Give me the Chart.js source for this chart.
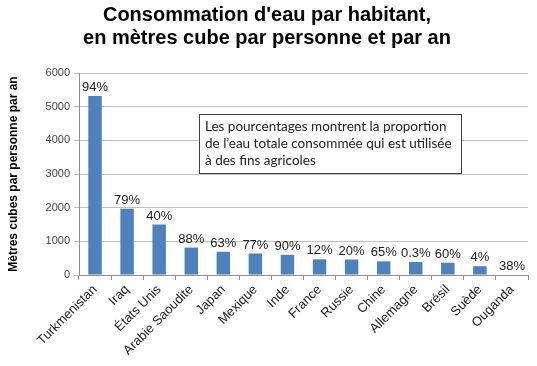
<!DOCTYPE html>
<html>
<head>
<meta charset="utf-8">
<script src="https://cdn.jsdelivr.net/npm/chart.js@4"></script>
<style>
  html, body { margin: 0; padding: 0; background: #fff; }
  #wrap { width: 537px; height: 366px; position: relative; }
</style>
</head>
<body>
<div id="wrap"><canvas id="chart"></canvas></div>
<script>
// Données
const pays = ["Turkmenistan", "Iraq", "États Unis", "Arabie Saoudite", "Japan", "Mexique", "Inde", "France", "Russie", "Chine", "Allemagne", "Brésil", "Suède", "Ouganda"];
const consommation = [5320, 1970, 1500, 815, 690, 640, 600, 465, 460, 405, 385, 365, 260, 0];
const partAgricole = ["94%", "79%", "40%", "88%", "63%", "77%", "90%", "12%", "20%", "65%", "0.3%", "60%", "4%", "38%"];
const titre = ["Consommation d'eau par habitant,", "en mètres cube par personne et par an"];
const titreAxeY = "Mètres cubes par personne par an";
const noteTexte = ["Les pourcentages montrent la proportion", "de l\u2019eau totale consommée qui est utilisée", "à des fins agricoles"];

const ARIAL = "'Liberation Sans', Arial, sans-serif";
Chart.defaults.font.family = ARIAL;

// Pourcentages au-dessus des barres
const pourcentPlugin = {
    id: "pourcent",
    afterDatasetsDraw(chart) {
        const ctx = chart.ctx;
        const meta = chart.getDatasetMeta(0);
        ctx.save();
        ctx.font = "13px " + ARIAL;
        ctx.fillStyle = "#222";
        ctx.textAlign = "center";
        ctx.textBaseline = "bottom";
        meta.data.forEach((bar, i) => {
            ctx.fillText(partAgricole[i], bar.x, bar.y - 2);
        });
        ctx.restore();
    }
};

// Encadré explicatif
const notePlugin = {
    id: "note",
    afterDraw(chart) {
        const ctx = chart.ctx;
        const a = chart.chartArea;
        const x = a.left + 120, y = a.top + 41, w = 262, h = 59;
        ctx.save();
        ctx.fillStyle = "#fff";
        ctx.fillRect(x, y, w, h);
        ctx.strokeStyle = "#404040";
        ctx.lineWidth = 1;
        ctx.strokeRect(x + 0.5, y + 0.5, w, h);
        ctx.fillStyle = "#222";
        ctx.font = "13.5px Lato, 'Open Sans', sans-serif";
        ctx.textBaseline = "middle";
        noteTexte.forEach((l, i) => ctx.fillText(l, x + 6, y + 13 + i * 17));
        ctx.restore();
    }
};

new Chart(document.getElementById("chart"), {
    type: "bar",
    data: {
        labels: pays,
        datasets: [{
            data: consommation,
            backgroundColor: "#4f81bd",
            borderWidth: 0,
            categoryPercentage: 1,
            barPercentage: 0.42
        }]
    },
    options: {
        responsive: true,
        maintainAspectRatio: false,
        animation: false,
        layout: { padding: { left: 6, right: 9, top: 0, bottom: 0 } },
        plugins: {
            legend: { display: false },
            tooltip: { enabled: false },
            title: {
                display: true,
                text: titre,
                color: "#000",
                font: { family: ARIAL, size: 20, weight: "bold", lineHeight: 1.15 },
                padding: { top: 4, bottom: 23 }
            }
        },
        scales: {
            x: {
                grid: { display: true, offset: true, drawOnChartArea: false, drawTicks: true, tickLength: 5, color: "#8c8c8c" },
                border: { color: "#8c8c8c" },
                ticks: { color: "#222", font: { family: ARIAL, size: 13 }, minRotation: 45, maxRotation: 45, padding: 2 },
                afterFit(s) { s.height = 91; }
            },
            y: {
                min: 0, max: 6000,
                ticks: { stepSize: 1000, color: "#444", font: { family: ARIAL, size: 11 }, padding: 4, callback: v => String(v) },
                grid: { color: "#c0c0c0", tickLength: 5 },
                border: { color: "#8c8c8c" },
                title: { display: true, text: titreAxeY, color: "#000", font: { family: ARIAL, size: 12, weight: "bold" }, padding: { top: 0, bottom: 6 } },
                afterFit(s) { s.width = 73; }
            }
        }
    },
    plugins: [pourcentPlugin, notePlugin]
});
</script>
</body>
</html>
